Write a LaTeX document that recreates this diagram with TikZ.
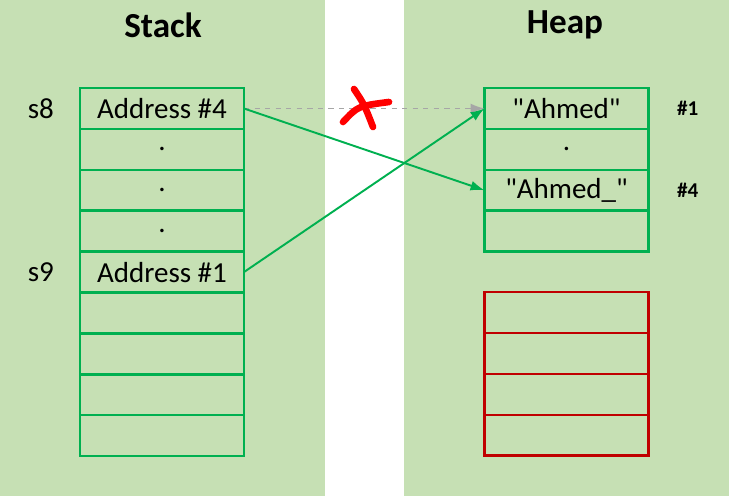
\documentclass[tikz,border=0pt]{standalone}
\usepackage{fontspec}
\setmainfont{Carlito}
\usetikzlibrary{positioning, arrows.meta}

\definecolor{bggreen}{HTML}{C6E0B4}
\definecolor{boxgreen}{HTML}{00B050}
\definecolor{boxred}{HTML}{C00000}

\begin{document}
\begin{tikzpicture}[x=0.02cm, y=-0.02cm, node distance=0pt,
    cell/.style={draw=boxgreen, line width=1.4pt, minimum width=3.28cm, minimum height=0.818cm, inner sep=0pt, outer sep=0pt, font=\fontsize{16.5}{18}\selectfont},
    freecell/.style={cell, draw=boxred},
    title/.style={font=\fontsize{20}{22}\selectfont\bfseries},
    slot/.style={font=\fontsize{16.5}{18}\selectfont},
    tag/.style={font=\fontsize{12}{14}\selectfont\bfseries},
    link/.style={boxgreen, line width=1.1pt, -{Latex[length=2.8mm,width=2mm]}},
    gone/.style={gray!70, line width=0.9pt, dashed, -{Latex[length=2.8mm,width=2mm]}},
    cross/.style={red, line width=3.8pt, line cap=round}]
		\useasboundingbox (0,0) rectangle (729,496);
		\fill[bggreen] (0,0) rectangle (325,496);
		\fill[bggreen] (404,0) rectangle (729,496);
		
		\node[title] (stack) at (163,25) {Stack};
		\node[title] (heap) at (565,25) {Heap};
		
		% stack frames
		\node[cell] (st1) at (162,108.5) {Address \#4};
		\node[cell] (st2) [below=of st1] {.};
		\node[cell] (st3) [below=of st2] {.};
		\node[cell] (st4) [below=of st3] {.};
		\node[cell] (st5) [below=of st4] {Address \#1};
		\node[cell] (st6) [below=of st5] {};
		\node[cell] (st7) [below=of st6] {};
		\node[cell] (st8) [below=of st7] {};
		\node[cell] (st9) [below=of st8] {};
		
		\node[slot] (s8) [left=0.4cm of st1] {s8};
		\node[slot] (s9) [left=0.4cm of st5] {s9};
		
		% heap objects
		\node[cell] (hp1) at (566.5,108.5) {\textquotedbl Ahmed\textquotedbl};
		\node[cell] (hp2) [below=of hp1] {.};
		\node[cell] (hp3) [below=of hp2] {\textquotedbl Ahmed\_\textquotedbl};
		\node[cell] (hp4) [below=of hp3] {};
		
		\node[tag] (n1) [right=0.45cm of hp1] {\#1};
		\node[tag] (n4) [right=0.45cm of hp3] {\#4};
		
		% free heap
		\node[freecell] (fr1) at (566.5,312.5) {};
		\node[freecell] (fr2) [below=of fr1] {};
		\node[freecell] (fr3) [below=of fr2] {};
		\node[freecell] (fr4) [below=of fr3] {};
		
		\draw[gone] (st1.east) -- (hp1.west);
		\draw[link] (st1.east) -- (hp3.west);
		\draw[link] (st5.east) -- (hp1.west);
		
		\draw[cross] (354,89) .. controls (364,104) .. (373,127);
		\draw[cross] (343,122) .. controls (358,106) .. (389,102);
	\end{tikzpicture}
\end{document}
